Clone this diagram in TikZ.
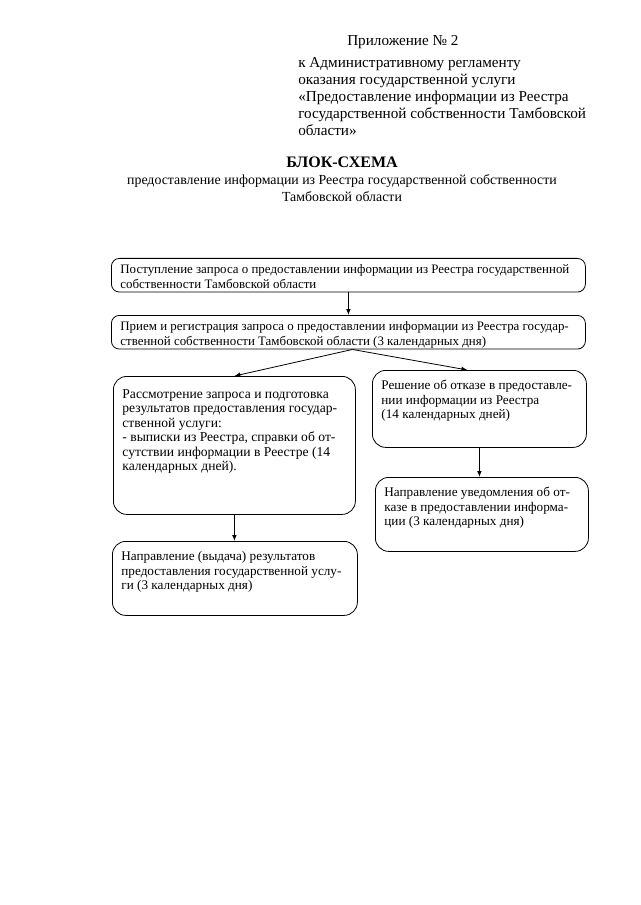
\documentclass[tikz,border=0pt]{standalone}
\usepackage{fontspec}
\setmainfont{Liberation Serif}
\usetikzlibrary{arrows.meta,positioning,calc}
\newcommand{\stagetext}[3]{\parbox[c][#1][t]{#2}{\begin{tabular}[t]{@{}l@{}}#3\end{tabular}}}
\tikzset{
  stage/.style={draw, rounded corners=6pt, line width=0.6pt, anchor=north west, inner xsep=6.75pt, inner ysep=3.5pt, font=\fontsize{9.7}{11.25}\selectfont},
  tallstage/.style={stage, rounded corners=10pt, inner ysep=7pt, font=\fontsize{9.9}{10.75}\selectfont},
  head/.style={inner sep=0pt, font=\fontsize{11.4}{12.75}\selectfont},
  line/.style={-{Latex[length=4.5pt,width=3.5pt]}, line width=0.6pt}
}
\begin{document}
\begin{tikzpicture}[x=0.75pt, y=-0.75pt]
  \useasboundingbox (0,0) rectangle (640,905);
  \node[head, anchor=north west, align=left] (annex) at (298,35) {\hspace*{36.75pt}Приложение № 2\\[4pt]к Административному регламенту\\оказания государственной услуги\\«Предоставление информации из Реестра\\государственной собственности Тамбовской\\области»};
  \node[head, anchor=north, align=center] (title) at (342,157) {{\fontsize{12}{12.75}\selectfont\bfseries БЛОК-СХЕМА}\\{\fontsize{10.4}{12.75}\selectfont предоставление информации из Реестра государственной собственности}\\{\fontsize{10.4}{12.75}\selectfont Тамбовской области}};

  \node[stage] (recv) at (111,258) {\stagetext{18.25pt}{342pt}{Поступление запроса о предоставлении информации из Реестра государственной\\собственности Тамбовской области}};
  \node[stage] (reg) at (111,315) {\stagetext{18.25pt}{342pt}{Прием и регистрация запроса о предоставлении информации из Реестра государ-\\ственной собственности Тамбовской области (3 календарных дня)}};
  \node[tallstage, inner ysep=9pt, font=\fontsize{10.2}{10.8}\selectfont] (review) at (113,376) {\stagetext{85.5pt}{168pt}{Рассмотрение запроса и подготовка\\результатов предоставления государ-\\ственной услуги:\\- выписки из Реестра, справки об от-\\сутствии информации в Реестре (14\\календарных дней).}};
  \node[tallstage] (refuse) at (372,370) {\stagetext{43.75pt}{147pt}{Решение об отказе в предоставле-\\нии информации из Реестра\\(14 календарных дней)}};
  \node[tallstage] (notify) at (375,477) {\stagetext{41.5pt}{146.25pt}{Направление уведомления об от-\\казе в предоставлении информа-\\ции (3 календарных дня)}};
  \node[tallstage] (issue) at (112,541) {\stagetext{41.5pt}{170.25pt}{Направление (выдача) результатов\\предоставления государственной услу-\\ги (3 календарных дня)}};

  \draw[line] (recv) -- (reg);
  \draw[line] ($(reg.south)+(4,0)$) -- (review.north);
  \draw[line] ($(reg.south)+(4,0)$) -- ($(refuse.north)+(-12,0)$);
  \draw[line] (review.south) -- (review.south |- issue.north);
  \draw[line] (refuse.south) -- (refuse.south |- notify.north);
\end{tikzpicture}
\end{document}
